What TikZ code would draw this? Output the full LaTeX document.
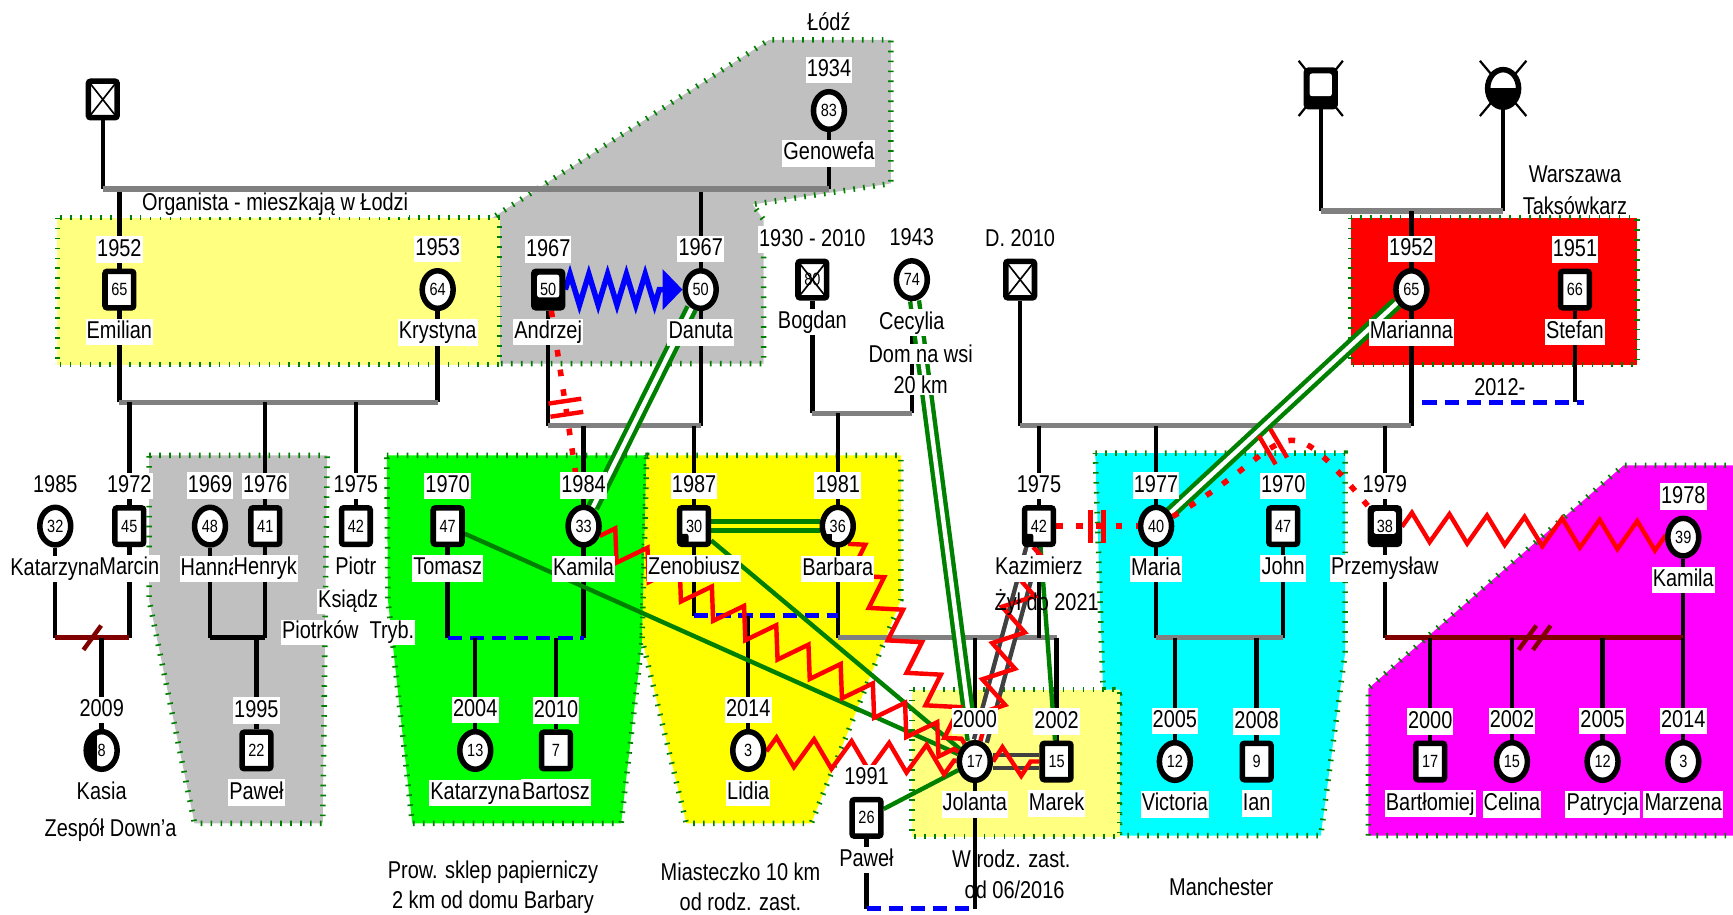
\documentclass[tikz,border=0pt]{standalone}
\usepackage{fontspec}
\setmainfont{Liberation Sans}[FakeStretch=0.82]
\usetikzlibrary{shapes.geometric,arrows.meta,decorations.pathmorphing,decorations.markings}
\pgfdeclarelayer{regions}
\pgfdeclarelayer{links}
\pgfdeclarelayer{rel}
\pgfsetlayers{regions,links,rel,main}
\definecolor{maroon}{HTML}{800000}
\definecolor{lightyel}{HTML}{FFFF80}
\definecolor{silver}{HTML}{C0C0C0}
\definecolor{wedgrey}{HTML}{808080}
\definecolor{darkgrey}{HTML}{404040}
\definecolor{leaf}{HTML}{008000}
\definecolor{lime}{HTML}{00FF00}
\definecolor{lemon}{HTML}{FFFF00}
\definecolor{aqua}{HTML}{00FFFF}
\definecolor{fuchsia}{HTML}{FF00FF}
\definecolor{scarlet}{HTML}{FF0000}
\begin{document}
\begin{tikzpicture}[x=1pt, y=-1pt,
    person/.style={draw, fill=white, line width=5pt, inner sep=0pt, font=\fontsize{16}{16}\selectfont},
    male/.style={person, rectangle, rounded corners=2pt, minimum width=26pt, minimum height=33pt},
    female/.style={person, ellipse, minimum width=28pt, minimum height=34pt},
    dead/.style={path picture={\draw[black, line width=1.5pt] (path picture bounding box.north west) -- (path picture bounding box.south east) (path picture bounding box.north east) -- (path picture bounding box.south west);}},
    maleblk/.style={male, fill=black, path picture={\fill[white] ([shift={(3pt,-3pt)}]path picture bounding box.north west) rectangle ([shift={(-3pt,-7pt)}]path picture bounding box.east);}},
    quarter/.style={path picture={\fill[black] ([shift={(-5pt,-7pt)}]path picture bounding box.center) rectangle (path picture bounding box.south west);}},
    halfleft/.style={path picture={\fill[black] (path picture bounding box.north west) rectangle ([xshift=-4pt]path picture bounding box.south);}},
    lowhalf/.style={path picture={\fill[black] (path picture bounding box.west) rectangle (path picture bounding box.south east);}},
    tag/.style={fill=white, inner sep=1pt, text height=17pt, text depth=5pt, font=\fontsize{22}{24}\selectfont},
    note/.style={inner sep=1pt, font=\fontsize{22}{24}\selectfont},
    yr/.style={label={[tag, label distance=5pt]above:#1}},
    nm/.style={label={[tag, label distance=7pt]below:#1}},
    area/.style={draw=leaf, line width=5pt, dash pattern=on 1.5pt off 7.5pt},
    kin/.style={draw=black, line width=4pt},
    wed/.style={draw=wedgrey, line width=5pt},
    sep/.style={draw=blue, line width=4pt, dash pattern=on 13pt off 7pt},
    split/.style={draw=maroon, line width=5pt, decoration={markings, mark=at position 0.5 with {\draw[maroon, line width=4pt] (-8pt,-11pt) -- (8pt,11pt);}}, postaction={decorate}},
    splittwo/.style={draw=maroon, line width=5pt, decoration={markings, mark=at position 0.5 with {\draw[maroon, line width=4pt] (-14pt,-11pt) -- (2pt,11pt) (-1pt,-11pt) -- (15pt,11pt);}}, postaction={decorate}},
    cut/.style={draw=scarlet, line width=5pt, dash pattern=on 6pt off 12pt, decoration={markings, mark=at position #1 with {\draw[scarlet, solid, line width=4pt] (-6pt,-15pt) -- (-6pt,15pt) (6pt,-15pt) -- (6pt,15pt);}}, postaction={decorate}},
    cut/.default=0.5,
    close/.style={draw=leaf, line width=4pt, double=white, double distance=4pt},
    bond/.style={draw=leaf, line width=4pt},
    distant/.style={draw=darkgrey, line width=4pt, double=white, double distance=8pt},
    conflict/.style={draw=scarlet, line width=4pt, decorate, decoration={zigzag, amplitude=13pt, segment length=34pt}},
    fusion/.style={draw=blue, line width=5pt, decorate, decoration={zigzag, amplitude=14pt, segment length=17pt, post length=20pt}, -{Triangle[length=18pt, width=36pt]}}]
\useasboundingbox (0,0) rectangle (1568,827);

% levels of the family lines
\coordinate (lvlLodz) at (0,171);
\coordinate (lvlWaw) at (0,191);
\coordinate (lvlEK) at (0,364);
\coordinate (lvlBC) at (0,374);
\coordinate (lvlAD) at (0,385);
\coordinate (lvlZB) at (0,557);
\coordinate (lvlC) at (0,577);
\coordinate (lvlPJ) at (0,822);

% households
\begin{pgfonlayer}{regions}
    \filldraw[area, fill=silver] (441,200) -- (696,36) -- (806,36) -- (806,166) -- (681,185) -- (691,199) -- (691,329) -- (450,329) -- (450,200) -- cycle;
    \filldraw[area, fill=lightyel] (52,197) rectangle (452,330);
    \filldraw[area, fill=silver] (135,412) -- (296,412) -- (292,745) -- (176,745) -- (135,543) -- cycle;
    \filldraw[area, fill=lime] (350,412) -- (585,412) -- (581,579) -- (562,745) -- (373,745) -- (351,543) -- cycle;
    \filldraw[area, fill=lemon] (585,412) -- (815,412) -- (815,543) -- (734,745) -- (621,745) -- (581,579) -- cycle;
    \filldraw[area, fill=aqua] (991,410) -- (1217,410) -- (1217,591) -- (1195,756) -- (1013,756) -- (1013,624) -- (998,624) -- cycle;
    \filldraw[area, fill=lightyel] (825,624) rectangle (1013,757);
    \filldraw[area, fill=fuchsia] (1238,756) -- (1238,623) -- (1469,421) -- (1578,421) -- (1578,756) -- cycle;
    \filldraw[area, fill=scarlet] (1222,197) rectangle (1481,330);
\end{pgfonlayer}

% grandparents
\node[male, dead] (dziadekL) at (93,90) {};
\node[female, yr=1934, nm=Genowefa] (genowefa) at (750,100) {83};
\node[maleblk] (dziadekW) at (1195,80) {};
\node[female, lowhalf] (babciaW) at (1360,80) {};

% parents
\node[male, yr=1952, nm=Emilian] (emilian) at (108,262) {65};
\node[female, yr=1953, nm=Krystyna] (krystyna) at (396,262) {64};
\node[maleblk, yr=1967, nm=Andrzej] (andrzej) at (496,262) {50};
\node[female, yr=1967, nm=Danuta] (danuta) at (634,262) {50};
\node[male, dead, yr=1930 - 2010, nm=Bogdan] (bogdan) at (735,253) {80};
\node[female, yr=1943, nm=Cecylia] (cecylia) at (825,253) {74};
\node[male, dead, yr=D. 2010] (dziadekK) at (923,253) {};
\node[female, yr=1952, nm=Marianna] (marianna) at (1277,262) {65};
\node[male, yr=1951, nm=Stefan] (stefan) at (1425,262) {66};

% middle generation
\node[female, yr=1985, nm=Katarzyna] (katarzyna) at (50,476) {32};
\node[male, yr=1972, nm=Marcin] (marcin) at (117,476) {45};
\node[female, yr=1969, nm=Hanna] (hanna) at (190,476) {48};
\node[male, yr=1976, nm=Henryk] (henryk) at (240,476) {41};
\node[male, yr=1975, nm=Piotr] (piotr) at (322,476) {42};
\node[male, yr=1970, nm=Tomasz] (tomasz) at (405,476) {47};
\node[female, yr=1984, nm=Kamila] (kamilaA) at (528,476) {33};
\node[male, quarter, yr=1987, nm=Zenobiusz] (zenobiusz) at (628,476) {30};
\node[female, quarter, yr=1981, nm=Barbara] (barbara) at (758,476) {36};
\node[male, quarter, yr=1975, nm=Kazimierz] (kazimierz) at (940,476) {42};
\node[female, yr=1977, nm=Maria] (maria) at (1046,476) {40};
\node[male, yr=1970, nm=John] (john) at (1161,476) {47};
\node[maleblk, yr=1979, nm=Przemysław] (przemyslaw) at (1253,476) {38};
\node[female, yr=1978, nm=Kamila] (kamilaB) at (1523,486) {39};

% children
\node[female, halfleft, yr=2009, nm=Kasia] (kasia) at (92,679) {8};
\node[male, yr=1995, nm=Paweł] (pawelA) at (232,679) {22};
\node[female, yr=2004, nm=Katarzyna] (katarzynaB) at (430,679) {13};
\node[male, yr=2010, nm=Bartosz] (bartosz) at (503,679) {7};
\node[female, yr=2014, nm=Lidia] (lidia) at (677,679) {3};
\node[male, yr=1991, nm=Paweł] (pawelB) at (784,740) {26};
\node[female, yr=2000, nm=Jolanta] (jolanta) at (882,689) {17};
\node[male, yr=2002, nm=Marek] (marek) at (956,689) {15};
\node[female, yr=2005, nm=Victoria] (victoria) at (1063,689) {12};
\node[male, yr=2008, nm=Ian] (ian) at (1137,689) {9};
\node[male, yr=2000, nm=Bartłomiej] (bartlomiej) at (1294,689) {17};
\node[female, yr=2002, nm=Celina] (celina) at (1368,689) {15};
\node[female, yr=2005, nm=Patrycja] (patrycja) at (1450,689) {12};
\node[female, yr=2014, nm=Marzena] (marzena) at (1523,689) {3};

% notes
\node[note] (lodzTxt) at (750,20) {Łódź};
\node[note, fill=white] (organistaTxt) at (249,185) {Organista - mieszkają w Łodzi};
\node[note, fill=white] (ksiadzTxt) at (315,544) {Ksiądz};
\node[note, fill=white] (piotrkowTxt) at (315,572) {Piotrków\ \ Tryb.};
\node[note, fill=white] (domTxt) at (833,320) {Dom na wsi};
\node[note, fill=white] (kmTxt) at (833,348) {20 km};
\node[note] (zylTxt) at (947,545) {Żył do 2021};
\node[note] (warszawaTxt) at (1425,158) {Warszawa};
\node[note] (taksowkarzTxt) at (1425,186) {Taksówkarz};
\node[note] (sinceTxt) at (1357,350) {2012-};
\node[note] (downTxt) at (100,751) {Zespół Down'a};
\node[note] (sklepTxt) at (446,789) {Prow. sklep papierniczy};
\node[note] (sklepTxtB) at (446,816) {2 km od domu Barbary};
\node[note] (miastoTxt) at (670,789) {Miasteczko 10 km};
\node[note] (miastoTxtB) at (670,816) {od rodz. zast.};
\node[note] (rodzTxt) at (915,777) {W rodz. zast.};
\node[note] (od2016Txt) at (918,805) {od 06/2016};
\node[note] (manchesterTxt) at (1105,802) {Manchester};

\begin{pgfonlayer}{links}
    % deceased marks
    \draw[line width=2pt] ([shift={(-20,-25)}]dziadekW.center) -- ([shift={(20,25)}]dziadekW.center)
        ([shift={(20,-25)}]dziadekW.center) -- ([shift={(-20,25)}]dziadekW.center);
    \draw[line width=2pt] ([shift={(-21,-25)}]babciaW.center) -- ([shift={(21,25)}]babciaW.center)
        ([shift={(21,-25)}]babciaW.center) -- ([shift={(-21,25)}]babciaW.center);
    % Lodz
    \draw[kin] (dziadekL) -- (dziadekL |- lvlLodz);
    \draw[kin] (genowefa) -- (genowefa |- lvlLodz);
    \draw[kin] (emilian |- lvlLodz) -- (emilian |- lvlEK);
    \draw[kin] (danuta |- lvlLodz) -- (danuta |- lvlAD);
    \draw[wed] (dziadekL |- lvlLodz) -- (genowefa |- lvlLodz);
    % Emilian and Krystyna
    \draw[kin] (krystyna) -- (krystyna |- lvlEK);
    \draw[wed] (emilian |- lvlEK) -- (krystyna |- lvlEK);
    \draw[kin] (marcin |- lvlEK) -- (marcin |- lvlC);
    \draw[kin] (henryk |- lvlEK) -- (henryk |- lvlC);
    \draw[kin] (piotr |- lvlEK) -- (piotr);
    \draw[kin] (katarzyna) -- (katarzyna |- lvlC);
    \draw[split] (katarzyna |- lvlC) -- (marcin |- lvlC);
    \draw[kin] (kasia |- lvlC) -- (kasia);
    \draw[kin] (hanna) -- (hanna |- lvlC);
    \draw[kin, line width=5pt] (hanna |- lvlC) -- (henryk |- lvlC);
    \draw[kin] (pawelA |- lvlC) -- (pawelA);
    % Andrzej and Danuta
    \draw[kin] (andrzej) -- (andrzej |- lvlAD);
    \draw[wed] (andrzej |- lvlAD) -- (danuta |- lvlAD);
    \draw[kin] (kamilaA |- lvlAD) -- (kamilaA |- lvlC);
    \draw[kin] (zenobiusz |- lvlAD) -- (zenobiusz |- lvlZB);
    \draw[kin] (tomasz) -- (tomasz |- lvlC);
    \draw[sep] (tomasz |- lvlC) -- (kamilaA |- lvlC);
    \foreach \k in {katarzynaB,bartosz}
        \draw[kin] (\k |- lvlC) -- (\k);
    % Bogdan and Cecylia
    \draw[kin] (bogdan) -- (bogdan |- lvlBC);
    \draw[kin] (cecylia) -- (cecylia |- lvlBC);
    \draw[wed] (bogdan |- lvlBC) -- (cecylia |- lvlBC);
    \draw[kin] (barbara |- lvlBC) -- (barbara |- lvlC);
    \draw[sep] (zenobiusz |- lvlZB) -- (barbara |- lvlZB);
    \draw[kin] (lidia |- lvlZB) -- (lidia);
    \draw[wed] (barbara |- lvlC) -- (marek |- lvlC);
    \draw[kin] (jolanta |- lvlC) -- (jolanta |- lvlPJ);
    \draw[kin] (marek |- lvlC) -- (marek);
    \draw[kin] (pawelB) -- (pawelB |- lvlPJ);
    \draw[sep] (pawelB |- lvlPJ) -- (jolanta |- lvlPJ);
    % Warszawa
    \draw[kin] (dziadekW) -- (dziadekW |- lvlWaw);
    \draw[kin] (babciaW) -- (babciaW |- lvlWaw);
    \draw[wed] (dziadekW |- lvlWaw) -- (babciaW |- lvlWaw);
    \draw[kin] (marianna |- lvlWaw) -- (marianna |- lvlAD);
    \draw[kin] (stefan) -- (stefan |- lvlEK);
    \draw[sep] ([xshift=10pt]marianna |- lvlEK) -- ([xshift=8pt]stefan |- lvlEK);
    \draw[kin] (dziadekK) -- (dziadekK |- lvlAD);
    \draw[wed] (dziadekK |- lvlAD) -- (marianna |- lvlAD);
    \draw[kin] (kazimierz |- lvlAD) -- (kazimierz |- lvlC);
    \draw[kin] (maria |- lvlAD) -- (maria |- lvlC);
    \draw[kin] (przemyslaw |- lvlAD) -- (przemyslaw |- lvlC);
    % Maria and John
    \draw[kin] (john) -- (john |- lvlC);
    \draw[wed] (maria |- lvlC) -- (john |- lvlC);
    \foreach \k in {victoria,ian}
        \draw[kin] (\k |- lvlC) -- (\k);
    % Przemyslaw and Kamila
    \draw[kin] (kamilaB) -- (kamilaB |- lvlC);
    \draw[splittwo] (przemyslaw |- lvlC) -- (kamilaB |- lvlC);
    \foreach \k in {bartlomiej,celina,patrycja,marzena}
        \draw[kin] (\k |- lvlC) -- (\k);
\end{pgfonlayer}

% relations
\begin{pgfonlayer}{rel}
    \draw[fusion] (andrzej) -- (danuta);
    \draw[close] (danuta) -- (kamilaA);
    \draw[close] (cecylia) -- (jolanta);
    \draw[close] (marianna) -- (maria);
    \draw[close, double=lemon] (zenobiusz) -- (barbara);
    \draw[bond] (tomasz) -- (jolanta);
    \draw[bond] (zenobiusz) -- (jolanta);
    \draw[bond] (pawelB) -- (jolanta);
    \draw[bond] (kazimierz) -- (marek);
    \draw[distant] (kazimierz) -- (jolanta);
    \draw[distant, double=lightyel] (jolanta) -- (marek);
    \draw[cut] (andrzej) -- (kamilaA);
    \draw[cut] (kazimierz) -- (maria);
    \draw[cut] (maria) to[out=30, in=130, looseness=1.9] (przemyslaw);
    \draw[conflict] (kamilaA) -- (jolanta);
    \draw[conflict] (barbara) -- (jolanta);
    \draw[conflict] (lidia) -- (jolanta);
    \draw[conflict] (kazimierz) -- (jolanta);
    \draw[conflict] (jolanta) -- (marek);
    \draw[conflict] (przemyslaw) -- (kamilaB);
\end{pgfonlayer}
\end{tikzpicture}
\end{document}
